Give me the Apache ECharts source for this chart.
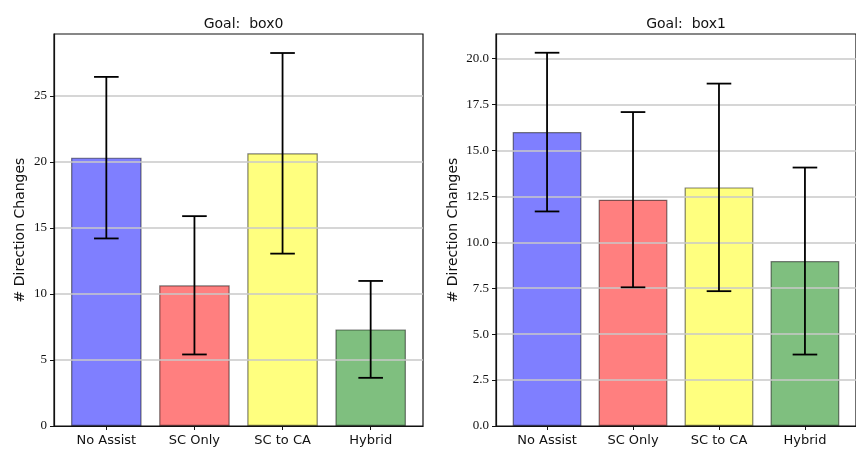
<!DOCTYPE html>
<html>
<head>
<meta charset="utf-8">
<script src="https://cdn.jsdelivr.net/npm/echarts@6/dist/echarts.min.js"></script>
<style>html,body{margin:0;padding:0;background:#fff;}#c{width:856px;height:452px;}</style>
</head>
<body>
<div id="c"></div>
<script>
// ---- data ----
const categories = ['No Assist', 'SC Only', 'SC to CA', 'Hybrid'];
const box0Means = [20.33, 10.66, 20.66, 7.32];
const box0Errs = [6.12, 5.24, 7.60, 3.67];
const box1Means = [16.00, 12.32, 12.99, 8.98];
const box1Errs = [4.32, 4.77, 5.65, 5.09];
const barColors = ['#0000ff', '#ff0000', '#ffff00', '#008000'];
const titles = ['Goal:  box0', 'Goal:  box1'];
const yMaxes = [29.7, 21.34];
const yIntervals = [5, 2.5];
const yLabel = '# Direction Changes';

const chart = echarts.init(document.getElementById('c'), null, {renderer: 'canvas'});

const serifFont = '"Liberation Serif", "DejaVu Serif", serif';
const sansFont = '"DejaVu Sans", sans-serif';
const idx = categories.map((_, i) => i);

function xAxis(gi) {
  return {
    gridIndex: gi, type: 'value', min: -0.594, max: 3.594, z: 5,
    splitLine: {show: false},
    axisLine: {show: true, onZero: false, lineStyle: {color: '#111', width: 1.2}},
    axisTick: {show: true, customValues: idx, length: 4, lineStyle: {color: '#111', width: 1}},
    axisLabel: {customValues: idx, formatter: v => categories[Math.round(v)], color: '#111',
      fontFamily: sansFont, fontSize: 13, margin: 8}
  };
}
function yAxis(gi, fmt) {
  return {
    gridIndex: gi, type: 'value', min: 0, max: yMaxes[gi], interval: yIntervals[gi], z: 5,
    name: yLabel, nameLocation: 'middle', nameGap: gi === 0 ? 27 : 36,
    nameTextStyle: {fontFamily: sansFont, fontSize: 14, color: '#111'},
    axisLine: {show: true, onZero: false, lineStyle: {color: '#111', width: 1.2}},
    axisTick: {show: true, length: 4, lineStyle: {color: '#111', width: 1}},
    axisLabel: {color: '#111', fontFamily: serifFont, fontSize: 13, margin: 7, showMaxLabel: false,
      formatter: fmt},
    splitLine: {show: true, showMinLine: false, showMaxLine: false, lineStyle: {color: '#c8c8c8', width: 1.5}}
  };
}
function barSeries(gi, means) {
  return {
    type: 'bar', xAxisIndex: gi, yAxisIndex: gi, barWidth: '80%', z: 2,
    data: means.map((m, i) => ({value: [i, m], itemStyle: {color: barColors[i]}})),
    itemStyle: {opacity: 0.5, borderColor: '#000', borderWidth: 1.2}
  };
}
function errSeries(gi, means, errs) {
  return {
    type: 'custom', xAxisIndex: gi, yAxisIndex: gi, z: 10,
    data: means.map((m, i) => [i, m, errs[i]]),
    renderItem: function (params, api) {
      const x = api.value(0), m = api.value(1), e = api.value(2);
      const top = api.coord([x, m + e]);
      const bot = api.coord([x, m - e]);
      const cap = 12.3;
      const style = {stroke: '#000', lineWidth: 1.8};
      return {
        type: 'group',
        children: [
          {type: 'line', shape: {x1: top[0], y1: top[1], x2: bot[0], y2: bot[1]}, style: style},
          {type: 'line', shape: {x1: top[0] - cap, y1: top[1], x2: top[0] + cap, y2: top[1]}, style: style},
          {type: 'line', shape: {x1: bot[0] - cap, y1: bot[1], x2: bot[0] + cap, y2: bot[1]}, style: style}
        ]
      };
    }
  };
}

chart.setOption({
  animation: false,
  backgroundColor: '#fff',
  title: [
    {text: titles[0], left: 238.5, top: 12, textAlign: 'center',
      textStyle: {fontFamily: sansFont, fontSize: 14, fontWeight: 'normal', color: '#111'}},
    {text: titles[1], left: 681, top: 12, textAlign: 'center',
      textStyle: {fontFamily: sansFont, fontSize: 14, fontWeight: 'normal', color: '#111'}}
  ],
  grid: [
    {left: 54, top: 34, width: 369, height: 392, show: true, borderColor: '#111', borderWidth: 1.2, backgroundColor: 'transparent'},
    {left: 496, top: 34, width: 370, height: 392, show: true, borderColor: '#111', borderWidth: 1.2, backgroundColor: 'transparent'}
  ],
  xAxis: [xAxis(0), xAxis(1)],
  yAxis: [yAxis(0, v => String(v)), yAxis(1, v => v.toFixed(1))],
  series: [
    barSeries(0, box0Means), errSeries(0, box0Means, box0Errs),
    barSeries(1, box1Means), errSeries(1, box1Means, box1Errs)
  ]
});
</script>
</body>
</html>
